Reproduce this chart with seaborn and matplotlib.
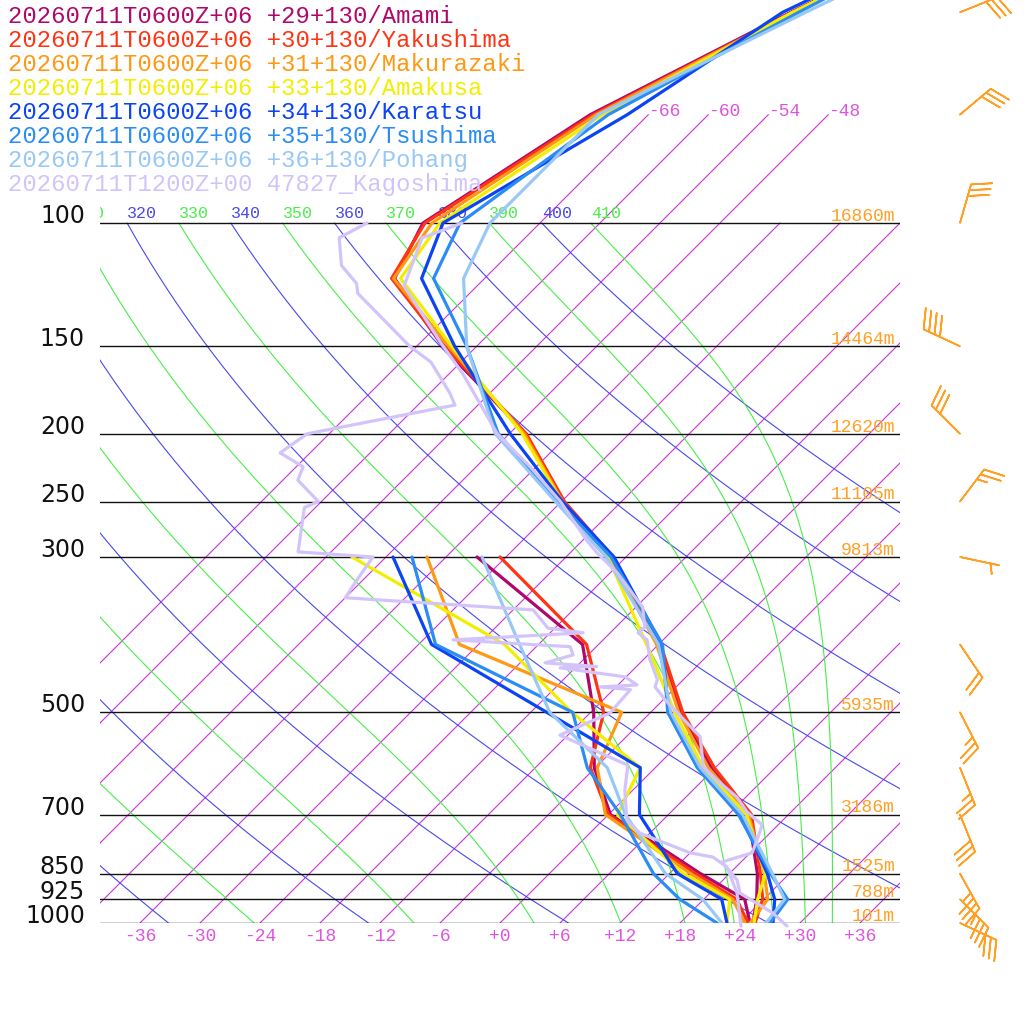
import numpy as np
import pandas as pd
import seaborn as sns
import matplotlib
matplotlib.use('Agg')
import matplotlib.pyplot as plt

SKEW = 30.4  # degC per ln(p) unit -> 45 degree isotherms
P_TOP = 1000 * np.exp(-923 / 304)

# ---- model soundings (T at model_levels, Td at dew_levels) ----
model_levels = [1000, 925, 850, 700, 600, 500, 400, 300, 250, 200, 150, 120, 100, 70, 50, 30]
dew_levels = [1000, 925, 850, 700, 600, 500, 400, 300]

amami_t = [25.3, 23.3, 20.8, 14.0, 5.6, -3.0, -12.0, -25.4, -35.8, -46.4, -63.4, -75.0, -77.7, -71.8, -62.0, -45.0]
yakushima_t = [25.5, 23.9, 21.1, 14.3, 5.9, -2.8, -11.8, -25.3, -35.7, -46.3, -63.2, -75.3, -77.5, -71.5, -61.8, -45.0]
makurazaki_t = [25.0, 24.4, 21.5, 14.0, 5.3, -3.2, -12.2, -25.6, -35.9, -46.5, -62.8, -75.1, -76.8, -71.2, -61.8, -45.5]
amakusa_t = [25.4, 23.4, 21.6, 13.8, 4.8, -3.6, -13.2, -25.8, -36.0, -46.7, -62.5, -74.4, -76.0, -70.6, -61.8, -45.5]
karatsu_t = [27.3, 25.1, 21.8, 13.2, 4.3, -4.2, -11.7, -25.2, -35.9, -47.9, -62.2, -72.3, -75.7, -68.1, -62.8, -46.0]
tsushima_t = [27.0, 26.4, 22.1, 13.0, 4.2, -4.3, -11.6, -25.5, -36.4, -49.1, -61.0, -71.1, -74.0, -70.0, -61.2, -47.0]
pohang_t = [26.6, 26.1, 22.3, 13.4, 4.5, -4.0, -12.0, -26.0, -36.6, -49.4, -61.0, -68.1, -71.0, -71.0, -60.5, -44.0]

amami_td = [25.0, 22.1, 15.1, 0.2, -6.1, -11.7, -19.6, -38.9]
yakushima_td = [24.8, 21.3, 14.6, 0.0, -6.5, -10.7, -19.2, -36.6]
makurazaki_td = [24.5, 20.9, 14.1, -0.3, -5.8, -8.9, -31.9, -43.9]
amakusa_td = [22.7, 20.6, 13.4, 0.9, -1.5, -13.9, -27.4, -51.4]
karatsu_td = [22.7, 19.8, 12.8, 3.1, -1.5, -16.4, -34.7, -47.3]
tsushima_td = [21.7, 15.6, 10.4, 1.2, -6.8, -13.8, -34.3, -45.4]
pohang_td = [22.2, 17.9, 11.6, 1.7, -4.8, -16.1, -25.9, -38.4]

# ---- observed sounding 47827 Kagoshima ----
kago_t_p = [1010, 968, 906, 868, 818, 794, 761, 724, 694, 661, 625, 598, 542, 480, 460, 449, 421,
            394, 385, 378, 354, 316, 296, 284, 250, 223, 200, 164, 149, 123, 105, 100]
kago_t = [29.0, 26.3, 21.0, 19.4, 16.1, 18.2, 17.4, 16.4, 13.6, 11.1, 7.4, 4.7, 1.4, -5.8, -8.1, -8.6, -11.3,
          -13.6, -15.2, -15.1, -17.3, -23.3, -27.3, -29.6, -36.1, -42.6, -49.2, -58.7, -63.7, -73.3, -76.3, -73.8]
kago_td_p = [1010, 906, 832, 805, 794, 744, 713, 646, 595, 539, 501, 464, 460, 457, 445, 432, 430, 425,
             414, 403, 394, 385, 379, 357, 343, 324, 300, 295, 255, 250, 233, 223, 213, 200, 182, 175,
             158, 150, 126, 122, 115, 105, 100]
kago_td = [24.4, 20.7, 17.1, 14.7, 12.0, 5.0, 2.4, -0.8, -3.0, -12.8, -10.0, -10.3, -13.6, -10.1, -12.1, -19.5,
           -16.0, -21.5, -19.5, -20.6, -33.0, -20.7, -24.7, -28.0, -48.0, -48.6, -49.3, -57.3, -61.1, -60.3,
           -64.5, -65.3, -69.0, -68.2, -56.3, -58.0, -63.0, -66.7, -77.2, -78.3, -81.6, -84.6, -83.3]

legend_labels = [
    '20260711T0600Z+06 +29+130/Amami',
    '20260711T0600Z+06 +30+130/Yakushima',
    '20260711T0600Z+06 +31+130/Makurazaki',
    '20260711T0600Z+06 +33+130/Amakusa',
    '20260711T0600Z+06 +34+130/Karatsu',
    '20260711T0600Z+06 +35+130/Tsushima',
    '20260711T0600Z+06 +36+130/Pohang',
    '20260711T1200Z+00 47827_Kagoshima',
]
colors = ['#b0086a', '#ff3414', '#ff9812', '#f2ee00', '#0a44f4', '#2a8cf4', '#98c8f8', '#d2c4fa']

# standard levels, heights
std_levels = [1000, 925, 850, 700, 500, 300, 250, 200, 150, 100]
std_heights = [101, 788, 1525, 3186, 5935, 9813, 11105, 12620, 14464, 16860]

# winds (direction from, knots)
wind_levels = [50, 70, 100, 150, 200, 250, 300, 400, 500, 600, 700, 850, 925, 1000]
wind_dir = [68, 50, 16, 295, 315, 37, 102, 146, 153, 158, 158, 151, 135, 115]
wind_kt = [30, 30, 30, 40, 30, 25, 5, 20, 25, 25, 30, 35, 35, 30]

ISO_C = '#cc33dd'
ISO_LBL = '#dd55dd'
DRY_C = '#4848ee'
MOIST_C = '#48ee48'
ORANGE = '#ffa024'
MONO = 'Liberation Mono'


def skew_x(t, p):
    return np.asarray(t, dtype=float) + SKEW * np.log(1000.0 / np.asarray(p, dtype=float))


def sat_theta_e(tk, p):
    tc = tk - 273.15
    es = 6.112 * np.exp(17.67 * tc / (tc + 243.5))
    r = np.minimum(622.0 * es / np.maximum(p - es, 1e-3), 200.0)
    return tk * (1000.0 / p) ** (0.2854 * (1 - 0.00028 * r)) * np.exp((3.376 / tk - 0.00254) * r * (1 + 0.00081 * r))


def moist_t(the, p):
    lo = np.full_like(p, 150.0)
    hi = np.minimum(the * (p / 1000.0) ** 0.2854, 315.0)
    for _ in range(60):
        mid = (lo + hi) / 2
        f = sat_theta_e(mid, p)
        lo = np.where(f < the, mid, lo)
        hi = np.where(f < the, hi, mid)
    return (lo + hi) / 2 - 273.15


sns.set_theme(style='white')
plt.rcParams['font.family'] = ['DejaVu Sans']

fig = plt.figure(figsize=(10.24, 10.24), dpi=100)
ax = fig.add_axes([100 / 1024, 101 / 1024, 800 / 1024, 923 / 1024])
ax.set_yscale('log')

# isotherms
for t in range(-66, 43, 6):
    ptop = 70 if t <= -48 else 100
    ax.plot(skew_x([t, t], [1000, ptop]), [1000, ptop], color=ISO_C, lw=0.8, zorder=1)
    if t <= -48:
        ax.text(skew_x(t, 70), 70.4, f'{t}', color=ISO_LBL, fontsize=13, family=MONO,
                ha='left', va='baseline', clip_on=True)
    if -36 <= t <= 36:
        ax.text(skew_x(t, 1000), 1018, f'{t:+d}', color=ISO_LBL, fontsize=13, family=MONO,
                ha='center', va='top', clip_on=False)


def adiabat_label(xv, s, c):
    # only labels that reach into the plot area (the leftmost one is cut by the frame)
    if xv > -43:
        ax.text(xv, 98.4, s, color=c, fontsize=12, family=MONO,
                ha='left', va='baseline', clip_on=True)


pp = np.geomspace(1000, 100, 160)
# dry adiabats
for th in range(240, 401, 20):
    tt = th * (pp / 1000.0) ** 0.2854 - 273.15
    ax.plot(skew_x(tt, pp), pp, color=DRY_C, lw=0.8, zorder=1)
    adiabat_label(float(skew_x(tt[-1], 100)), str(th), DRY_C)
# moist pseudo-adiabats (labelled by theta-e)
for the in range(250, 411, 20):
    tt = moist_t(float(the), pp)
    ax.plot(skew_x(tt, pp), pp, color=MOIST_C, lw=0.8, zorder=1)
    adiabat_label(float(skew_x(tt[-1], 100)), str(the), MOIST_C)

# pressure lines, labels and heights
for p, h in zip(std_levels, std_heights):
    ax.plot([-40, 40], [p, p], color='#111111', lw=1.0, zorder=2)
    ax.text(-41.5, p, str(p), fontsize=17, ha='right', va='baseline', color='#111111', clip_on=False)
    ax.text(39.5, p * 0.993, f'{h}m', fontsize=13, family=MONO, color=ORANGE,
            ha='right', va='baseline', clip_on=False)

# soundings
t_series = [amami_t, yakushima_t, makurazaki_t, amakusa_t, karatsu_t, tsushima_t, pohang_t]
td_series = [amami_td, yakushima_td, makurazaki_td, amakusa_td, karatsu_td, tsushima_td, pohang_td]
rows = []
for i, (ts, tds) in enumerate(zip(t_series, td_series)):
    for p, t in zip(model_levels, ts):
        rows.append((i, 'T', p, t))
    for p, t in zip(dew_levels, tds):
        rows.append((i, 'Td', p, t))
for p, t in zip(kago_t_p, kago_t):
    rows.append((7, 'T', p, t))
for p, t in zip(kago_td_p, kago_td):
    rows.append((7, 'Td', p, t))
df = pd.DataFrame(rows, columns=['station', 'kind', 'p', 'temp'])
df['x'] = skew_x(df['temp'], df['p'])

for (st, kind), sub in df.groupby(['station', 'kind'], sort=True):
    sns.lineplot(data=sub, x='x', y='p', sort=False, estimator=None, color=colors[st],
                 lw=2.3, ax=ax, legend=False, zorder=5 + st)
# observed surface point sits just under the 1000 hPa line
for ln in ax.lines[-2:]:
    ln.set_clip_on(False)

# wind barbs
wd = np.deg2rad(np.array(wind_dir, dtype=float))
ws = np.array(wind_kt, dtype=float)
u = -ws * np.sin(wd)
v = -ws * np.cos(wd)
bb = ax.barbs(np.full(len(wind_levels), 46.0), wind_levels, u, v, length=7.6, color=ORANGE,
              lw=1.2, sizes=dict(spacing=0.15, height=0.5, width=0.35))
bb.set_clip_on(False)

ax.set_xlim(-40, 40)
ax.set_ylim(1000, P_TOP)
ax.set_axis_off()

# legend
for k, (lab, c) in enumerate(zip(legend_labels, colors)):
    fig.text(8 / 1024, 1 - (23 + 24 * k) / 1024, lab, color=c, fontsize=17.2, family=MONO,
             ha='left', va='baseline')

fig.savefig('out.png', dpi=100, facecolor='white')
